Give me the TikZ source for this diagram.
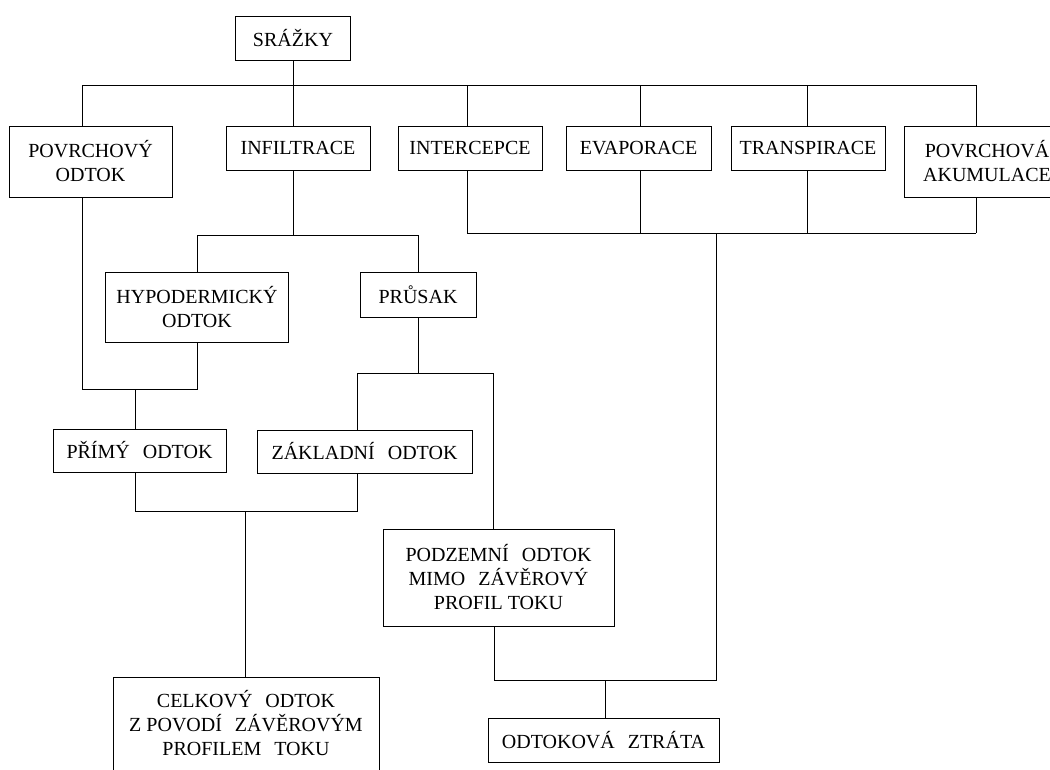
\documentclass[tikz,border=0pt]{standalone}
\usepackage{fontspec}
\setmainfont{Liberation Serif}

\newcommand{\wsp}{\hspace{0.65em}}

\tikzset{
  box/.style={draw, line width=1pt, align=center, inner sep=0pt, font=\fontsize{20}{24}\selectfont},
  conn/.style={line width=1pt}
}

\begin{document}
\begin{tikzpicture}[x=1pt, y=-1pt]
            \useasboundingbox (0,0) rectangle (1050,769);
            % Nodes
            \node[box, minimum width=115pt, minimum height=44pt] (srazky) at (293,38) {SRÁŽKY};
            \node[box, minimum width=163pt, minimum height=71pt] (povrch) at (90.5,161.5) {POVRCHOVÝ\\ODTOK};
            \node[box, minimum width=144pt, minimum height=44pt] (infil) at (298,148) {INFILTRACE};
            \node[box, minimum width=144pt, minimum height=44pt] (interc) at (470,148) {INTERCEPCE};
            \node[box, minimum width=145pt, minimum height=44pt] (evap) at (638.5,148) {EVAPORACE};
            \node[box, minimum width=154pt, minimum height=44pt] (transp) at (808,148) {TRANSPIRACE};
            \node[box, minimum width=166pt, minimum height=71pt] (akum) at (987,161.5) {POVRCHOVÁ\\AKUMULACE};
            \node[box, minimum width=183pt, minimum height=70pt] (hypo) at (197,307) {HYPODERMICKÝ\\ODTOK};
            \node[box, minimum width=116pt, minimum height=45pt] (prusak) at (418,294.5) {PRŮSAK};
            \node[box, minimum width=173pt, minimum height=43pt] (primy) at (139.5,450.5) {PŘÍMÝ\wsp ODTOK};
            \node[box, minimum width=215pt, minimum height=43pt] (zakladni) at (364.5,451.5) {ZÁKLADNÍ\wsp ODTOK};
            \node[box, minimum width=231pt, minimum height=97pt] (podzemni) at (498.5,577.5) {PODZEMNÍ\wsp ODTOK\\MIMO\wsp ZÁVĚROVÝ\\PROFIL TOKU};
            \node[box, minimum width=266pt, anchor=north, inner ysep=13pt, text depth=50pt] (celkovy) at (246,677) {CELKOVÝ\wsp ODTOK\\Z POVODÍ\wsp ZÁVĚROVÝM\\PROFILEM\wsp TOKU};
            \node[box, minimum width=231pt, minimum height=44pt] (ztrata) at (603.5,740) {ODTOKOVÁ\wsp ZTRÁTA};

            % Junctions
            \coordinate (t1) at (82,85);
            \coordinate (t2) at (293,85);
            \coordinate (t3) at (467,85);
            \coordinate (t4) at (640,85);
            \coordinate (t5) at (807,85);
            \coordinate (t6) at (976,85);
            \coordinate (c1) at (0,233);
            \coordinate (c2) at (716,233);
            \coordinate (c3) at (716,680);
            \coordinate (p1) at (494,680);
            \coordinate (p2) at (605,680);
            \coordinate (i2) at (197,235);
            \coordinate (i3) at (418,235);
            \coordinate (h1) at (82,389);
            \coordinate (h2) at (197,389);
            \coordinate (h3) at (135,389);
            \coordinate (s1) at (418,373);
            \coordinate (s2) at (357,373);
            \coordinate (s3) at (493,373);
            \coordinate (d1) at (135,511);
            \coordinate (d2) at (357,511);
            \coordinate (d3) at (245,511);

            % Lines
            \draw[conn] (srazky) -- (t2);
            \draw[conn] (t1) -- (t6);
            \foreach \c/\n in {t1/povrch, t2/infil, t3/interc, t4/evap, t5/transp, t6/akum}
                \draw[conn] (\c) -- (\c |- \n.north);
            \foreach \c/\n in {t3/interc, t4/evap, t5/transp, t6/akum}
                \draw[conn] (\c |- \n.south) -- (\c |- c1);
            \draw[conn] (t3 |- c1) -- (t6 |- c1);
            \draw[conn] (c2) -- (c3) -- (p1) -- (p1 |- podzemni.south);
            \draw[conn] (p2) -- (p2 |- ztrata.north);
            \draw[conn] (t2 |- infil.south) -- (t2 |- i2);
            \draw[conn] (i2) -- (i3);
            \draw[conn] (i2) -- (hypo);
            \draw[conn] (i3) -- (prusak);
            \draw[conn] (t1 |- povrch.south) -- (h1) -- (h2) -- (hypo);
            \draw[conn] (h3) -- (h3 |- primy.north);
            \draw[conn] (prusak) -- (s1);
            \draw[conn] (s2) -- (s3);
            \draw[conn] (s2) -- (s2 |- zakladni.north);
            \draw[conn] (s3) -- (s3 |- podzemni.north);
            \draw[conn] (d1 |- primy.south) -- (d1) -- (d2) -- (d2 |- zakladni.south);
            \draw[conn] (d3) -- (d3 |- celkovy.north);
        \end{tikzpicture}
\end{document}
